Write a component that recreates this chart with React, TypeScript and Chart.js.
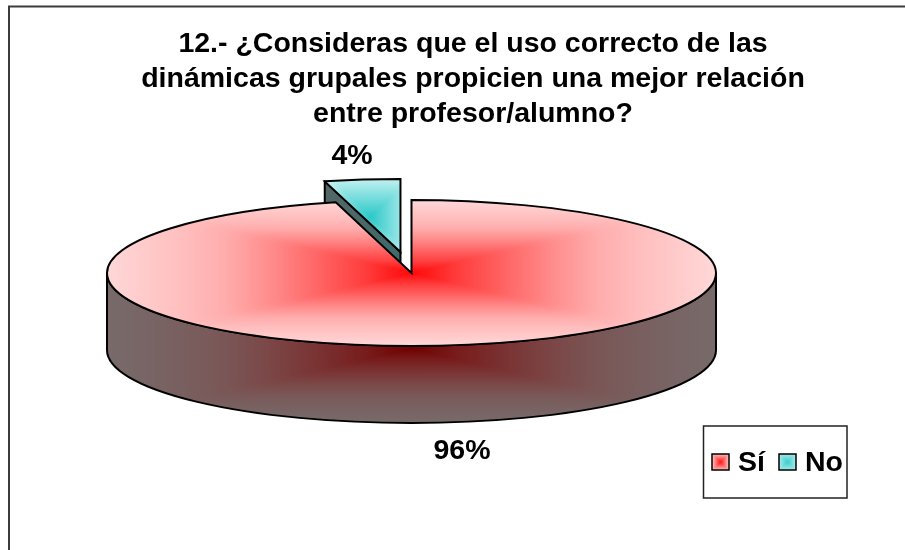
import React, { useEffect, useRef } from "react";
import { Chart, registerables } from "chart.js";

Chart.register(...registerables);

const titleLines = [
  "12.- ¿Consideras que el uso correcto de las",
  "dinámicas grupales propicien una mejor relación",
  "entre profesor/alumno?",
];
const categories = ["Sí", "No"];
const values = [96, 4];
const explode = [0, 88];

const FONT = '"Liberation Sans", Arial, sans-serif';
const FONT_SIZE = 28.5;
const CANVAS_W = 946;
const CANVAS_H = 600;
const CX = 411.5;
const CY = 273;
const RX = 304.5;
const RY = 73;
const DEPTH = 77;
const K = RY / RX;
const labelPos = [
  [462, 451],
  [352, 156],
];

type Stop = [number, number, number, number];
const redStops: Stop[] = [
  [0, 255, 8, 8],
  [0.15, 255, 60, 60],
  [0.32, 255, 104, 104],
  [0.48, 255, 144, 144],
  [0.61, 255, 172, 172],
  [0.75, 255, 190, 190],
  [0.9, 255, 205, 205],
  [1, 255, 216, 216],
];
const sideStops: Stop[] = [
  [0, 112, 0, 0],
  [0.15, 120, 28, 28],
  [0.32, 122, 52, 52],
  [0.48, 123, 72, 72],
  [0.61, 122, 86, 86],
  [0.75, 121, 95, 95],
  [0.9, 120, 102, 102],
  [1, 120, 106, 106],
];
const tealStops: Stop[] = [
  [0, 44, 200, 200],
  [1, 184, 238, 238],
];
const swatchRed: Stop[] = [
  [0, 255, 20, 20],
  [1, 255, 190, 190],
];
const swatchTeal: Stop[] = [
  [0, 60, 205, 205],
  [1, 165, 232, 232],
];

function rectGradient(
  ctx: CanvasRenderingContext2D,
  cx: number,
  cy: number,
  hw: number,
  hh: number,
  stops: Stop[]
) {
  const off = document.createElement("canvas");
  off.width = CANVAS_W;
  off.height = CANVAS_H;
  const o = off.getContext("2d")!;
  const img = o.createImageData(CANVAS_W, CANVAS_H);
  for (let y = 0; y < CANVAS_H; y++) {
    for (let x = 0; x < CANVAS_W; x++) {
      const dx = Math.abs(x + 0.5 - cx) / hw;
      const dy = Math.abs(y + 0.5 - cy) / hh;
      const m = Math.max(dx, dy, 1e-6);
      const t = Math.min(1, m * Math.pow(Math.pow(dx / m, 16) + Math.pow(dy / m, 16), 1 / 16));
      let i = 0;
      while (i < stops.length - 2 && t > stops[i + 1][0]) i++;
      const a = stops[i];
      const b = stops[i + 1];
      const f = (t - a[0]) / (b[0] - a[0]);
      const p = (y * CANVAS_W + x) * 4;
      img.data[p] = a[1] + (b[1] - a[1]) * f;
      img.data[p + 1] = a[2] + (b[2] - a[2]) * f;
      img.data[p + 2] = a[3] + (b[3] - a[3]) * f;
      img.data[p + 3] = 255;
    }
  }
  o.putImageData(img, 0, 0);
  return ctx.createPattern(off, "no-repeat")!;
}

export default function App() {
  const ref = useRef<HTMLCanvasElement>(null);

  useEffect(() => {
    const canvas = ref.current!;
    const ctx = canvas.getContext("2d")!;
    const total = values.reduce((a, b) => a + b, 0);
    const sliceAngle = (Math.PI * 2 * values[1]) / total;
    const mid = -Math.PI / 2 - sliceAngle / 2;
    const apexX = CX + Math.cos(mid) * explode[1];
    const apexY = CY + Math.sin(mid) * explode[1] * K;
    const sw = RX * Math.sin(sliceAngle);
    const sh = RY * Math.cos(sliceAngle);

    const redPattern = rectGradient(ctx, CX, CY, RX, RY, redStops);
    const tealPattern = rectGradient(ctx, apexX - sw / 2 + 8, apexY - sh / 2, sw / 2, sh / 2, tealStops);
    const sidePattern = rectGradient(ctx, CX, CY + (RY + DEPTH) / 2, RX, (RY + DEPTH) / 2, sideStops);
    const swatches = [
      rectGradient(ctx, 720.5, 462, 8, 8, swatchRed),
      rectGradient(ctx, 787.5, 462, 8, 8, swatchTeal),
    ];

    const pie3d = {
      id: "pie3d",
      beforeDraw(chart: any) {
        const c = chart.ctx;
        c.save();
        c.fillStyle = "#ffffff";
        c.fillRect(0, 0, CANVAS_W, CANVAS_H);
        c.strokeStyle = "#3c3c3c";
        c.lineWidth = 2;
        c.strokeRect(9, 6.5, 928, 570);
        c.restore();
      },
      afterDatasetsUpdate(chart: any) {
        const arcs = chart.getDatasetMeta(0).data;
        arcs.forEach((arc: any, i: number) => {
          const m = (arc.startAngle + arc.endAngle) / 2;
          arc.x += Math.cos(m) * explode[i];
          arc.y += Math.sin(m) * explode[i];
        });
      },
      beforeDatasetsDraw(chart: any) {
        const c = chart.ctx;
        const area = chart.chartArea;
        const bx = (area.left + area.right) / 2;
        const by = (area.top + area.bottom) / 2;
        const M = new DOMMatrix([1, 0, 0, K, CX - bx, CY - by * K]);
        const inv = M.inverse();
        redPattern.setTransform(inv);
        tealPattern.setTransform(inv);

        const arcs = chart.getDatasetMeta(0).data;
        const no = arcs[1];
        const sx = no.x - bx + CX;
        const sy = (no.y - by) * K + CY;
        const ex = sx + Math.cos(no.startAngle) * RX;
        const ey = sy + Math.sin(no.startAngle) * RY;

        c.save();
        c.lineWidth = 2;
        c.strokeStyle = "#000000";
        c.lineJoin = "round";

        // side wall of the big slice
        c.beginPath();
        c.ellipse(CX, CY, RX, RY, 0, 0, Math.PI);
        c.lineTo(CX - RX, CY + DEPTH);
        c.ellipse(CX, CY + DEPTH, RX, RY, 0, Math.PI, 0, true);
        c.closePath();
        c.fillStyle = sidePattern;
        c.fill();
        c.stroke();

        // cut face of the exploded slice
        const g = c.createLinearGradient(ex, ey, sx, sy);
        g.addColorStop(0, "#556666");
        g.addColorStop(1, "#3f6a6a");
        c.beginPath();
        c.moveTo(ex, ey);
        c.lineTo(sx, sy);
        c.lineTo(sx, sy + DEPTH);
        c.lineTo(ex, ey + DEPTH);
        c.closePath();
        c.fillStyle = g;
        c.fill();
        c.stroke();
        c.restore();

        c.save();
        c.transform(M.a, M.b, M.c, M.d, M.e, M.f);
      },
      afterDatasetsDraw(chart: any) {
        const c = chart.ctx;
        c.restore();
        const area = chart.chartArea;
        const bx = (area.left + area.right) / 2;
        const by = (area.top + area.bottom) / 2;
        const arcs = chart.getDatasetMeta(0).data;

        c.save();
        c.lineWidth = 2;
        c.strokeStyle = "#000000";
        c.lineJoin = "miter";
        arcs.forEach((arc: any) => {
          const sx = arc.x - bx + CX;
          const sy = (arc.y - by) * K + CY;
          c.beginPath();
          c.moveTo(sx, sy);
          c.ellipse(sx, sy, RX, RY, 0, arc.startAngle, arc.endAngle);
          c.closePath();
          c.stroke();
        });

        // percentage labels
        c.fillStyle = "#000000";
        c.font = `bold ${FONT_SIZE}px ${FONT}`;
        c.textAlign = "center";
        c.textBaseline = "middle";
        values.forEach((v, i) => {
          c.fillText(`${Math.round((v / total) * 100)}%`, labelPos[i][0], labelPos[i][1]);
        });

        // legend
        c.strokeStyle = "#222222";
        c.lineWidth = 1.5;
        c.strokeRect(703.5, 426, 143.5, 72);
        const swatchX = [712, 779];
        const textX = [738, 805];
        categories.forEach((name, i) => {
          c.fillStyle = swatches[i];
          c.fillRect(swatchX[i], 454, 17, 16);
          c.strokeStyle = "#000000";
          c.lineWidth = 1.5;
          c.strokeRect(swatchX[i], 454, 17, 16);
          c.fillStyle = "#000000";
          c.textAlign = "left";
          c.fillText(name, textX[i], 463);
        });
        c.restore();
      },
    };

    const chart = new Chart(canvas, {
      type: "pie",
      data: {
        labels: categories,
        datasets: [
          {
            data: values,
            backgroundColor: [redPattern, tealPattern],
            borderWidth: 0,
            radius: RX,
            clip: false,
          } as any,
        ],
      },
      options: {
        responsive: false,
        animation: false,
        events: [],
        plugins: {
          legend: { display: false },
          tooltip: { enabled: false },
          title: {
            display: true,
            text: titleLines,
            color: "#000000",
            font: { family: FONT, weight: "bold", size: FONT_SIZE, lineHeight: 35 / FONT_SIZE },
            padding: { top: 27, bottom: 0 },
          },
        },
      },
      plugins: [pie3d],
    } as any);

    return () => chart.destroy();
  }, []);

  return (
    <div style={{ position: "fixed", left: 0, top: 0, width: 905, height: 550, overflow: "hidden", background: "#fff" }}>
      <canvas ref={ref} width={CANVAS_W} height={CANVAS_H} style={{ display: "block" }} />
    </div>
  );
}
